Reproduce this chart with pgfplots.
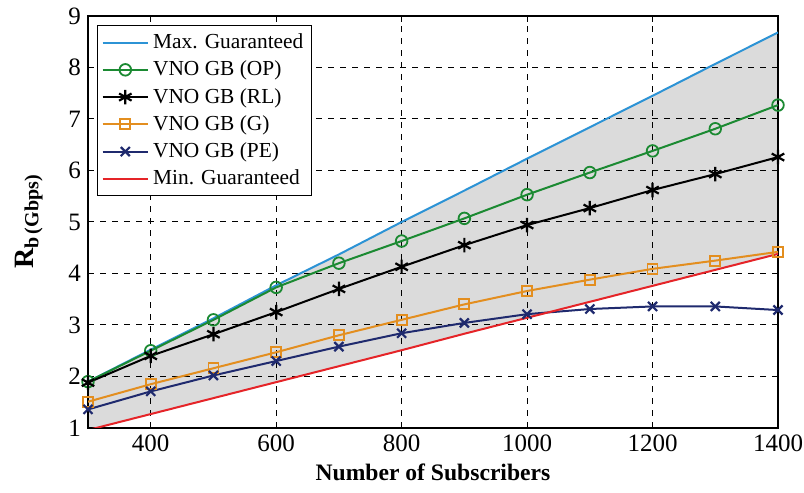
\documentclass[border=0pt]{standalone}
\usepackage{pgfplots}
\pgfplotsset{compat=1.18}
\usepgfplotslibrary{fillbetween}
\usepackage{fontspec}
\setmainfont{Liberation Serif}

\definecolor{cmax}{HTML}{2C93D5}
\definecolor{cop}{HTML}{1B8A32}
\definecolor{crl}{HTML}{000000}
\definecolor{cg}{HTML}{E38E1F}
\definecolor{cpe}{HTML}{1F2A6E}
\definecolor{cmin}{HTML}{E52428}

\begin{document}
\begin{tikzpicture}
\begin{axis}[
  scale only axis,
  width=345pt, height=206pt,
  xmin=300, xmax=1400,
  ymin=1, ymax=9,
  xtick={400,600,800,1000,1200,1400},
  ytick={1,2,...,9},
  /pgf/number format/assume math mode=true,
  /pgf/number format/1000 sep={},
  tick label style={font=\fontsize{12.5}{15}\selectfont},
  xtick align=inside, ytick align=inside,
  tick style={black, line width=0.5pt},
  major tick length=3pt,
  grid=major,
  major grid style={black, dashed, line width=0.5pt},
  axis line style={black, line width=0.8pt},
  xlabel={\textbf{Number of Subscribers}},
  xlabel style={font=\fontsize{11.8}{14}\selectfont, yshift=1pt},
  ylabel={\textbf{\fontsize{14}{16}\selectfont R\raisebox{-0.35ex}{\fontsize{10}{12}\selectfont b\,(Gbps)}}},
  ylabel style={yshift=6pt},
  legend style={at={(0.013,0.978)}, anchor=north west, draw=black,
    line width=0.6pt, font=\fontsize{10.7}{13}\selectfont,
    row sep=0.7pt, inner sep=2pt, fill=white},
  legend cell align=left,
  legend image code/.code={%
    \draw[mark repeat=2, mark phase=2]
      plot coordinates {(0cm,0cm) (0.4cm,0cm) (0.8cm,0cm)};},
  legend image post style={line width=1pt},
  /tikz/fill between/on layer=axis background,
  every axis plot/.append style={line width=1pt},
]
\addplot[cmax, no markers, name path=maxg] coordinates {
  (300,1.90) (400,2.52) (500,3.13) (600,3.77) (700,4.37) (800,5.00)
  (900,5.61) (1000,6.23) (1100,6.84) (1200,7.45) (1300,8.07) (1400,8.68)};
\addlegendentry{Max. Guaranteed}
\addplot[cop, mark=o, mark size=2.9pt, mark options={line width=0.9pt}] coordinates {
  (300,1.90) (400,2.50) (500,3.10) (600,3.73) (700,4.20) (800,4.63)
  (900,5.07) (1000,5.53) (1100,5.96) (1200,6.38) (1300,6.81) (1400,7.27)};
\addlegendentry{VNO GB (OP)}
\addplot[crl, mark=asterisk, mark size=3.6pt, mark options={line width=1.1pt}] coordinates {
  (300,1.88) (400,2.40) (500,2.82) (600,3.25) (700,3.70) (800,4.13)
  (900,4.55) (1000,4.94) (1100,5.27) (1200,5.62) (1300,5.93) (1400,6.26)};
\addlegendentry{VNO GB (RL)}
\addplot[cg, mark=square, mark size=2.5pt, mark options={line width=0.9pt}] coordinates {
  (300,1.51) (400,1.85) (500,2.16) (600,2.47) (700,2.80) (800,3.10)
  (900,3.40) (1000,3.66) (1100,3.88) (1200,4.09) (1300,4.25) (1400,4.42)};
\addlegendentry{VNO GB (G)}
\addplot[cpe, mark=x, mark size=3.2pt, mark options={line width=1.1pt}] coordinates {
  (300,1.36) (400,1.71) (500,2.02) (600,2.30) (700,2.58) (800,2.84)
  (900,3.04) (1000,3.21) (1100,3.31) (1200,3.36) (1300,3.36) (1400,3.29)};
\addlegendentry{VNO GB (PE)}
\addplot[cmin, no markers, name path=ming] coordinates {
  (300,0.96) (400,1.27) (500,1.58) (600,1.89) (700,2.20) (800,2.51)
  (900,2.83) (1000,3.14) (1100,3.45) (1200,3.76) (1300,4.07) (1400,4.38)};
\addlegendentry{Min. Guaranteed}
\addplot[fill=black!14, draw=none, forget plot] fill between[of=maxg and ming];
\end{axis}
% fixed page margins around the axis box
\path (current axis.south west) ++(-44pt,-32.5pt) coordinate (bbA);
\path (current axis.north east) ++(13pt,8pt) coordinate (bbB);
\pgfresetboundingbox
\useasboundingbox (bbA) rectangle (bbB);
\end{tikzpicture}
\end{document}
